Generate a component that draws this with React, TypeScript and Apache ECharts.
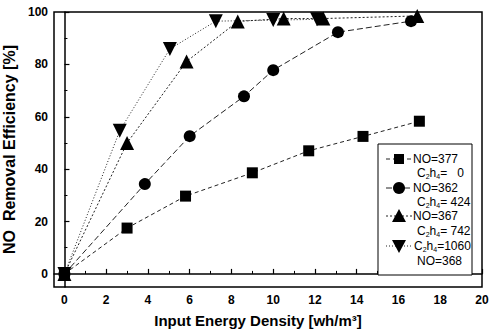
import React, { useEffect, useRef } from "react";
import * as echarts from "echarts";

// Input energy density [wh/m3] and NO removal efficiency [%] for each gas mix
const energyNo377 = [0, 3.0, 5.8, 9.0, 11.7, 14.3, 17.0];
const effNo377 = [0, 17.5, 29.7, 38.6, 47.0, 52.5, 58.3];

const energyNo362 = [0, 3.85, 6.0, 8.6, 10.0, 13.1, 16.6];
const effNo362 = [0, 34.3, 52.6, 67.8, 77.8, 92.3, 96.5];

const energyNo367 = [0, 3.0, 5.85, 8.3, 10.5, 12.4, 16.9];
const effNo367 = [0, 50.0, 81.1, 96.4, 97.5, 97.5, 98.5];

const energyNo368 = [0, 2.65, 5.05, 7.25, 10.0, 12.1];
const effNo368 = [0, 54.7, 85.9, 96.5, 96.9, 97.2];

const xTickLabels = [0, 2, 4, 6, 8, 10, 12, 14, 16, 18, 20];
const xMinorTicks = [1, 3, 5, 7, 9, 11, 13, 15, 17, 19];
const yTickLabels = [0, 20, 40, 60, 80, 100];
const yMinorTicks = [10, 30, 50, 70, 90];

const pairs = (xs: number[], ys: number[]) => xs.map((x, i) => [x, ys[i]]);

const FONT = "Liberation Sans, Arial, sans-serif";

export default function App() {
  const ref = useRef<HTMLDivElement>(null);

  useEffect(() => {
    document.body.style.margin = "0";
    if (!ref.current) return;
    const chart = echarts.init(ref.current, undefined, { renderer: "svg" });

    const lineSeries = (
      name: string,
      xs: number[],
      ys: number[],
      symbol: string,
      size: number,
      dash: number[],
      rotate = 0
    ) => ({
      name,
      type: "line",
      data: pairs(xs, ys),
      symbol,
      symbolSize: size,
      symbolRotate: rotate,
      itemStyle: { color: "#000" },
      lineStyle: { color: "#222", width: 1, type: dash },
      z: 3,
    });

    const txt = { fontSize: 12, fontFamily: FONT, fill: "#000" };
    const legendText = (x: number, y: number, text: string) => ({
      type: "text",
      x,
      y,
      style: {
        text,
        ...txt,
        verticalAlign: "middle",
        rich: { s: { fontSize: 7, fontFamily: FONT, fill: "#000", padding: [7, 0, 0, 0] }, n: { ...txt } },
      },
      z: 20,
    });
    const legendLine = (y: number, dash: number[]) => ({
      type: "line",
      shape: { x1: 386, y1: y, x2: 413, y2: y },
      style: { stroke: "#222", lineWidth: 1, lineDash: dash },
      z: 20,
    });

    chart.setOption({
      animation: false,
      backgroundColor: "#fff",
      grid: {
        left: 54,
        right: 9,
        top: 12,
        bottom: 46,
        outerBoundsMode: "none",
        containLabel: false,
        show: true,
        borderColor: "#000",
        borderWidth: 1.5,
        backgroundColor: "transparent",
      },
      xAxis: [
        {
          type: "value",
          min: -0.5,
          max: 20,
          name: "Input Energy Density [wh/m³]",
          nameLocation: "middle",
          nameGap: 26,
          nameTextStyle: { fontSize: 15, fontWeight: "bold", fontFamily: FONT, color: "#000", padding: [0, 20, 0, 0] },
          axisLine: { show: true, lineStyle: { color: "#000", width: 1.5 } },
          axisTick: { show: true, inside: true, length: 5, customValues: xTickLabels, lineStyle: { color: "#000", width: 1.2 } },
          axisLabel: { customValues: xTickLabels, margin: 7, fontSize: 12, fontWeight: "bold", fontFamily: FONT, color: "#000" },
          splitLine: { show: false },
        },
        {
          type: "value",
          min: -0.5,
          max: 20,
          position: "bottom",
          axisLine: { show: false },
          axisTick: { show: true, inside: true, length: 3, customValues: xMinorTicks, lineStyle: { color: "#000", width: 1 } },
          axisLabel: { show: false },
          splitLine: { show: false },
        },
      ],
      yAxis: [
        {
          type: "value",
          min: -5,
          max: 100,
          name: "NO  Removal Efficiency [%]",
          nameLocation: "middle",
          nameGap: 22,
          nameTextStyle: { fontSize: 16, fontWeight: "bold", fontFamily: FONT, color: "#000" },
          axisLine: { show: true, lineStyle: { color: "#000", width: 1.5 } },
          axisTick: { show: true, inside: true, length: 5, customValues: yTickLabels, lineStyle: { color: "#000", width: 1.2 } },
          axisLabel: { customValues: yTickLabels, margin: 6, fontSize: 12, fontWeight: "bold", fontFamily: FONT, color: "#000" },
          splitLine: { show: false },
        },
        {
          type: "value",
          min: -5,
          max: 100,
          position: "left",
          axisLine: { show: false },
          axisTick: { show: true, inside: true, length: 3, customValues: yMinorTicks, lineStyle: { color: "#000", width: 1 } },
          axisLabel: { show: false },
          splitLine: { show: false },
        },
      ],
      series: [
        lineSeries("NO=377", energyNo377, effNo377, "rect", 11, [4, 3]),
        lineSeries("NO=362", energyNo362, effNo362, "circle", 12, [6, 3]),
        lineSeries("NO=367", energyNo367, effNo367, "triangle", 14, [2, 2]),
        lineSeries("NO=368", energyNo368, effNo368, "triangle", 14, [1, 2], 180),
      ],
      graphic: [
        {
          type: "rect",
          shape: { x: 378, y: 144, width: 94, height: 131 },
          style: { fill: "#fff", stroke: "#000", lineWidth: 1 },
          z: 10,
        },
        legendLine(159, [4, 3]),
        { type: "rect", shape: { x: 394, y: 154, width: 10, height: 10 }, style: { fill: "#000" }, z: 21 },
        legendText(413, 159, "NO=377"),
        legendText(417, 173, "C{s|2}h{s|4}=   0"),
        legendLine(188, [6, 3]),
        { type: "circle", shape: { cx: 399, cy: 188, r: 6 }, style: { fill: "#000" }, z: 21 },
        legendText(413, 188, "NO=362"),
        legendText(417, 202, "C{s|2}h{s|4}= 424"),
        legendLine(216, [2, 2]),
        {
          type: "polygon",
          shape: { points: [[399, 209], [392, 222], [406, 222]] },
          style: { fill: "#000" },
          z: 21,
        },
        legendText(413, 216, "NO=367"),
        legendText(417, 231, "C{s|2}h{s|4}= 742"),
        legendLine(246, [1, 2]),
        {
          type: "polygon",
          shape: { points: [[392, 240], [406, 240], [399, 253]] },
          style: { fill: "#000" },
          z: 21,
        },
        legendText(414, 246, "C{s|2}h{s|4}=1060"),
        legendText(417, 261, "NO=368"),
      ],
    });

    return () => chart.dispose();
  }, []);

  return <div ref={ref} style={{ width: 491, height: 333 }} />;
}
